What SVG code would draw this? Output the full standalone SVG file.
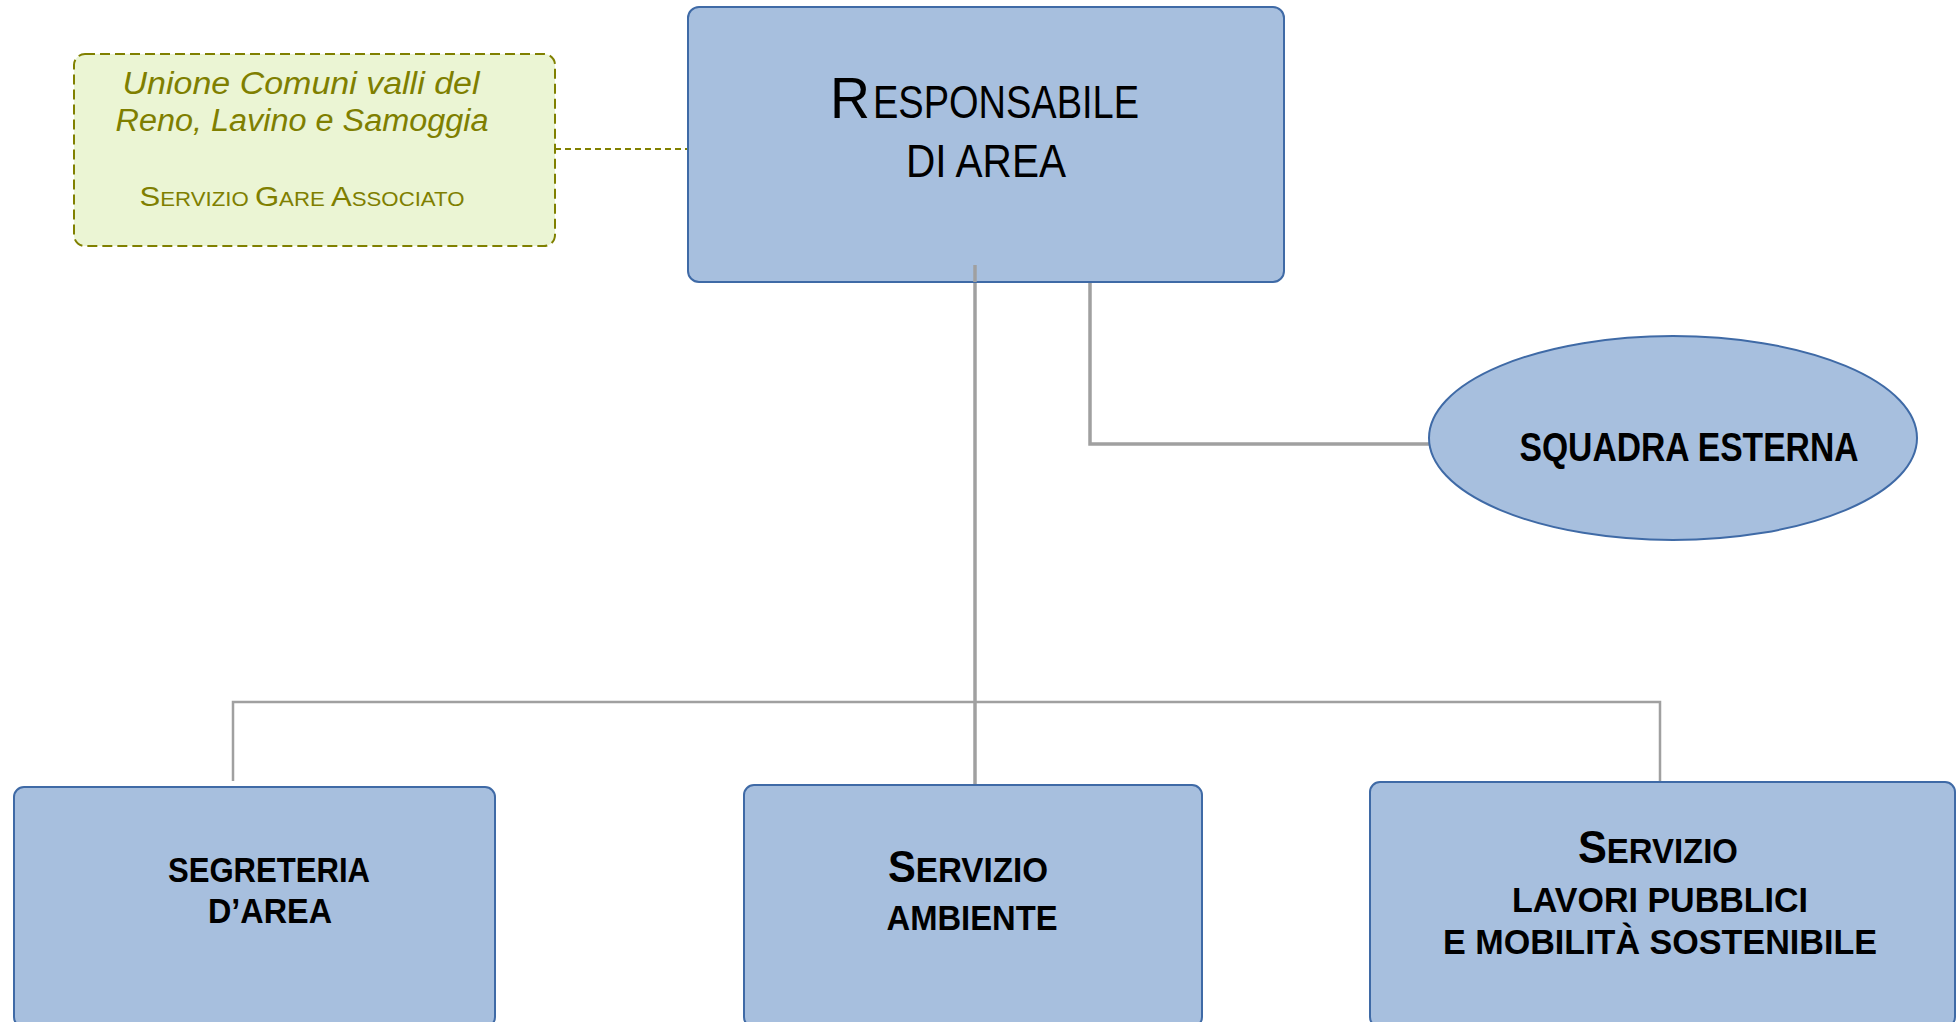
<svg xmlns="http://www.w3.org/2000/svg" width="1957" height="1022" viewBox="0 0 1957 1022">
<style>
.box{fill:#a7bfde;stroke:#3f6aa6;stroke-width:2}
.note{fill:#ebf5d4;stroke:#808000;stroke-width:2;stroke-dasharray:10 5}
.ln{fill:none;stroke:#a0a0a0;stroke-width:3}
.thin{fill:none;stroke:#a0a0a0;stroke-width:2.5}
.dash{fill:none;stroke:#808000;stroke-width:2;stroke-dasharray:6 4}
text{font-family:"Liberation Sans Narrow","Liberation Sans",Arial,sans-serif;text-anchor:middle;fill:#000}
.st{text-anchor:start}
.b{font-weight:bold}
.g{fill:#7f7f00}
.i{font-style:italic}
</style>
<g id="connectors">
<line class="dash" x1="555" y1="149" x2="688" y2="149"/>
<line class="ln" x1="975" y1="265" x2="975" y2="785" style="stroke-width:3.5"/>
<polyline class="ln" points="1090,282 1090,444 1429,444" style="stroke-width:3.5"/>
<polyline class="thin" points="233,781 233,702 1660,702 1660,782"/>
</g>
<g id="node-unione">
<rect class="note" x="74" y="54" width="481" height="192" rx="11"/>
<text class="g i" x="301" y="94" font-size="31" textLength="357" lengthAdjust="spacingAndGlyphs">Unione Comuni valli del</text>
<text class="g i" x="302" y="131" font-size="31" textLength="373" lengthAdjust="spacingAndGlyphs">Reno, Lavino e Samoggia</text>
<text class="g" x="302" y="206" font-size="20" textLength="325" lengthAdjust="spacingAndGlyphs"><tspan font-size="28">S</tspan>ERVIZIO <tspan font-size="28">G</tspan>ARE <tspan font-size="28">A</tspan>SSOCIATO</text>
</g>
<g id="node-responsabile">
<rect class="box" x="688" y="7" width="596" height="275" rx="11"/>
<text class="st" x="830" y="118" font-size="57" textLength="40" lengthAdjust="spacingAndGlyphs">R</text>
<text class="st" x="873" y="118" font-size="46" textLength="266" lengthAdjust="spacingAndGlyphs">ESPONSABILE</text>
<text x="986" y="177" font-size="46" textLength="160" lengthAdjust="spacingAndGlyphs">DI AREA</text>
<line class="ln" x1="975" y1="265" x2="975" y2="282" style="stroke-width:3.5"/>
</g>
<g id="node-squadra">
<ellipse class="box" cx="1673" cy="438" rx="244" ry="102"/>
<text class="b" x="1689" y="461" font-size="40" textLength="339" lengthAdjust="spacingAndGlyphs">SQUADRA ESTERNA</text>
</g>
<g id="node-segreteria">
<rect class="box" x="14" y="787" width="481" height="240" rx="10"/>
<text class="b" x="269" y="882" font-size="35" textLength="202" lengthAdjust="spacingAndGlyphs">SEGRETERIA</text>
<text class="b" x="270" y="923" font-size="35" textLength="124" lengthAdjust="spacingAndGlyphs">D’AREA</text>
</g>
<g id="node-ambiente">
<rect class="box" x="744" y="785" width="458" height="242" rx="10"/>
<text class="b" x="968" y="882" font-size="35" textLength="160" lengthAdjust="spacingAndGlyphs"><tspan font-size="44">S</tspan>ERVIZIO</text>
<text class="b" x="972" y="930" font-size="35" textLength="171" lengthAdjust="spacingAndGlyphs">AMBIENTE</text>
</g>
<g id="node-lavori">
<rect class="box" x="1370" y="782" width="585" height="245" rx="10"/>
<text class="b" x="1658" y="863" font-size="35" textLength="160" lengthAdjust="spacingAndGlyphs"><tspan font-size="46">S</tspan>ERVIZIO</text>
<text class="b" x="1660" y="912" font-size="35" textLength="296" lengthAdjust="spacingAndGlyphs">LAVORI PUBBLICI</text>
<text class="b" x="1660" y="954" font-size="35" textLength="434" lengthAdjust="spacingAndGlyphs">E MOBILITÀ SOSTENIBILE</text>
</g>
</svg>
